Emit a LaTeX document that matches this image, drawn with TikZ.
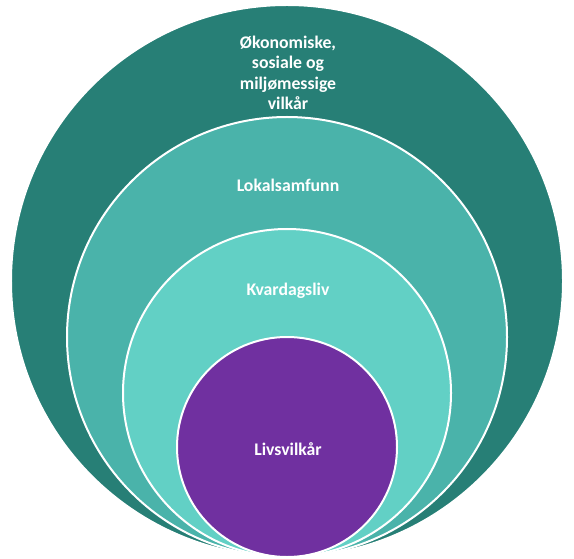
\documentclass[tikz,border=0pt]{standalone}
\usepackage{fontspec}
\setmainfont{Carlito}
\definecolor{ringA}{HTML}{277F76}
\definecolor{ringB}{HTML}{4AB3AA}
\definecolor{ringC}{HTML}{62D0C5}
\definecolor{ringD}{HTML}{7030A0}
\tikzset{
  ring/.style={draw=white, line width=2bp},
  lbl/.style={text=white, font=\bfseries\fontsize{17.8}{20.5}\selectfont, align=center, inner sep=0pt}
}
\begin{document}
\begin{tikzpicture}[x=1bp,y=-1bp]
\useasboundingbox (0,0) rectangle (574,559);
\filldraw[ring, fill=ringA] (287,281) circle[radius=276bp];
\filldraw[ring, fill=ringB] (287,337) circle[radius=220bp];
\filldraw[ring, fill=ringC] (287,393) circle[radius=164bp];
\filldraw[ring, fill=ringD] (287,447) circle[radius=110bp];
\node[lbl] (t1) at (288,73) {Økonomiske,\\sosiale og\\miljømessige\\vilkår};
\node[lbl] (t2) at (288,185) {Lokalsamfunn};
\node[lbl] (t3) at (288,291) {Kvardagsliv};
\node[lbl] (t4) at (288,449) {Livsvilkår};
\end{tikzpicture}
\end{document}
